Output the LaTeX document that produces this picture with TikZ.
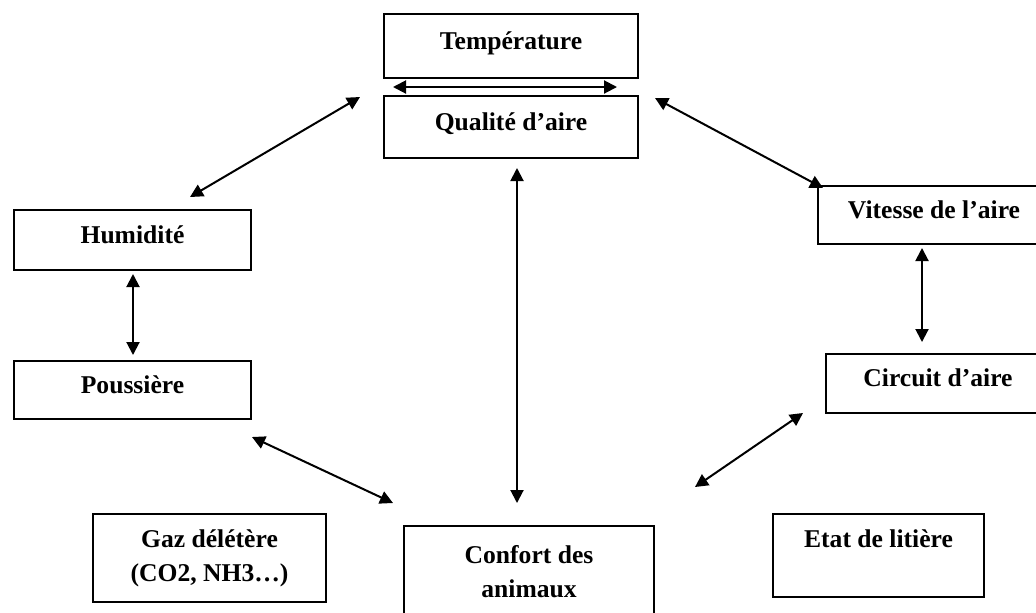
\documentclass[tikz,border=0pt]{standalone}
\usepackage{fontspec}
\setmainfont{Liberation Serif}
\usetikzlibrary{arrows.meta}

\begin{document}
\begin{tikzpicture}[
    x = 0.5pt,
    y = -0.5pt,
    box/.style = {draw=black, line width=1pt, inner sep=0pt, anchor=north west,
                  align=center, font=\fontsize{12.8pt}{17pt}\selectfont\bfseries},
    lift/.style = {text height=9pt, text depth=6pt},
    link/.style = {{Triangle[length=6.5pt,width=6.5pt]}-{Triangle[length=6.5pt,width=6.5pt]},
                   line width=1pt}]
    \useasboundingbox (0,0) rectangle (1036,612);
    % NODES
    % top pair
    \node[box, lift, minimum width=127pt, minimum height=32pt] (temp) at (383,13) {Température};
    \node[box, lift, minimum width=127pt, minimum height=31pt] (qual) at (383,95) {Qualité d’aire};
    % left column
    \node[box, lift, minimum width=118.5pt, minimum height=30pt] (hum) at (13,209) {Humidité};
    \node[box, lift, minimum width=118.5pt, minimum height=29pt] (pous) at (13,360) {Poussière};
    % right column
    \node[box, lift, minimum width=116pt, minimum height=29pt] (vit) at (817,185) {Vitesse de l’aire};
    \node[box, lift, minimum width=112pt, minimum height=29.5pt] (circ) at (825,353) {Circuit d’aire};
    % bottom row
    \node[box, minimum width=116.5pt, minimum height=44pt] (gaz) at (92,513) {Gaz délétère\\(CO2, NH3…)};
    \node[box, minimum width=125pt, minimum height=46pt] (conf) at (403,525) {Confort des\\animaux};
    \node[box, minimum width=105.5pt, minimum height=41.5pt] (etat) at (772,513) {Etat de litière\\~};

    % ARROW ENDS
    \coordinate (temp-l) at (393,87);
    \coordinate (temp-r) at (617,87);
    \coordinate (qual-l) at (360,97);
    \coordinate (qual-r) at (655,98);
    \coordinate (qual-b) at (517,168);
    \coordinate (hum-t) at (190,197);
    \coordinate (hum-b) at (133,274);
    \coordinate (pous-t) at (133,355);
    \coordinate (pous-b) at (252,437);
    \coordinate (vit-l) at (823,188);
    \coordinate (vit-b) at (922,248);
    \coordinate (circ-t) at (922,342);
    \coordinate (circ-b) at (803,413);
    \coordinate (conf-l) at (393,503);
    \coordinate (conf-t) at (517,503);
    \coordinate (conf-r) at (695,487);

    % ARROWS
    \draw[link] (temp-l)--(temp-r);
    \draw[link] (qual-l)--(hum-t);
    \draw[link] (qual-r)--(vit-l);
    \draw[link] (qual-b)--(conf-t);
    \draw[link] (hum-b)--(pous-t);
    \draw[link] (vit-b)--(circ-t);
    \draw[link] (pous-b)--(conf-l);
    \draw[link] (circ-b)--(conf-r);
\end{tikzpicture}
\end{document}
